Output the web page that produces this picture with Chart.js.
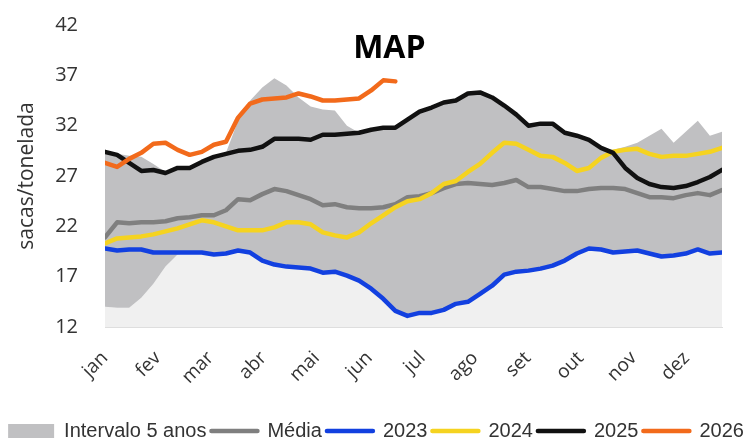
<!DOCTYPE html>
<html>
<head>
<meta charset="utf-8">
<script src="https://cdn.jsdelivr.net/npm/chart.js@4.4.1/dist/chart.umd.min.js"></script>
<style>
  html, body { margin: 0; padding: 0; background: #fff; }
  #wrap { width: 752px; height: 438px; }
</style>
</head>
<body>
<div id="wrap"><canvas id="chart"></canvas></div>
<script>
// week index along the year
const WEEKS = [0,1,2,3,4,5,6,7,8,9,10,11,12,13,14,15,16,17,18,19,20,21,22,23,24,25,
               26,27,28,29,30,31,32,33,34,35,36,37,38,39,40,41,42,43,44,45,46,47,48,49,50,51];
const MONTHS = ['jan','fev','mar','abr','mai','jun','jul','ago','set','out','nov','dez'];
const MONTH_TICKS = [0, 4.37, 8.74, 13.11, 17.48, 21.85, 26.22, 30.59, 34.96, 39.33, 43.7, 48.07];
const Y_TICKS = [12, 17, 22, 27, 32, 37, 42];
const TITLE = 'MAP';

// 5-year range (min / max)
const BAND_MIN = [14.0,13.9,13.9,14.9,16.3,18.0,19.2,19.4,19.4,19.2,19.3,19.6,19.4,18.6,18.2,18.0,17.9,17.8,17.4,17.5,17.1,16.6,15.8,14.8,13.6,13.1,
                  13.4,13.4,13.7,14.3,14.5,15.3,16.1,17.2,17.5,17.6,17.8,18.1,18.6,19.3,19.8,19.7,19.4,19.5,19.6,19.3,19.0,19.1,19.3,19.7,19.3,19.4];
const BAND_MAX = [29.5,29.2,29.0,28.9,28.2,27.4,27.8,27.8,28.4,28.9,29.3,32.5,34.5,35.8,36.7,36.0,34.8,33.9,33.6,33.5,32.0,31.3,31.6,31.8,31.8,32.6,
                  33.4,33.8,34.3,34.5,35.2,35.3,34.8,34.0,33.1,32.0,32.2,32.2,31.3,31.0,30.6,29.8,29.6,29.9,30.3,31.0,31.7,30.3,31.4,32.5,31.0,31.4];
const MEDIA = [20.9,22.4,22.3,22.4,22.4,22.5,22.8,22.9,23.1,23.1,23.6,24.7,24.6,25.2,25.7,25.5,25.1,24.7,24.1,24.2,23.9,23.8,23.8,23.9,24.2,24.9,
               25.0,25.3,25.8,26.2,26.3,26.2,26.1,26.3,26.6,25.9,25.9,25.7,25.5,25.5,25.7,25.8,25.8,25.7,25.3,24.9,24.9,24.8,25.1,25.3,25.1,25.6];
const Y2023 = [19.8,19.6,19.7,19.7,19.4,19.4,19.4,19.4,19.4,19.2,19.3,19.6,19.4,18.6,18.2,18.0,17.9,17.8,17.4,17.5,17.1,16.6,15.8,14.8,13.6,13.1,
               13.4,13.4,13.7,14.3,14.5,15.3,16.1,17.2,17.5,17.6,17.8,18.1,18.6,19.3,19.8,19.7,19.4,19.5,19.6,19.3,19.0,19.1,19.3,19.7,19.3,19.4];
const Y2024 = [20.3,20.8,20.9,21.0,21.2,21.5,21.8,22.2,22.6,22.4,22.0,21.6,21.6,21.6,21.9,22.4,22.4,22.2,21.4,21.1,20.9,21.4,22.3,23.1,23.9,24.5,
               24.7,25.3,26.2,26.5,27.4,28.2,29.3,30.3,30.2,29.6,29.0,28.9,28.3,27.5,27.8,28.8,29.4,29.6,29.7,29.2,28.9,29.0,29.0,29.2,29.4,29.8];
const Y2025 = [29.4,29.1,28.3,27.5,27.6,27.3,27.8,27.8,28.4,28.9,29.2,29.5,29.6,29.9,30.7,30.7,30.7,30.6,31.1,31.1,31.2,31.3,31.6,31.8,31.8,32.6,
               33.4,33.8,34.3,34.5,35.2,35.3,34.8,34.0,33.1,32.0,32.2,32.2,31.3,31.0,30.6,29.8,29.3,27.8,26.8,26.2,25.9,25.8,26.0,26.4,26.9,27.6];
const Y2026 = [28.3,27.9,28.7,29.3,30.2,30.3,29.6,29.1,29.4,30.1,30.4,32.8,34.2,34.6,34.7,34.8,35.2,34.9,34.5,34.5,34.6,34.7,35.5,36.5,36.4];

const COLORS = {
    band: '#c0c0c2',
    below: '#f0f0f0',
    media: '#7f7f7f',
    y2023: '#1240e0',
    y2024: '#f5d320',
    y2025: '#111111',
    y2026: '#f26a1b',
    text: '#333333'
};

const toPoints = values => values.map((v, i) => ({ x: WEEKS[i], y: v }));

const lineSet = (label, values, color, order) => ({
    label,
    data: toPoints(values),
    borderColor: color,
    backgroundColor: color,
    legendColor: color,
    borderWidth: 4.5,
    pointRadius: 0,
    tension: 0,
    fill: false,
    borderCapStyle: 'round',
    borderJoinStyle: 'round',
    order
});

// draws the "MAP" heading inside the plot
const titlePlugin = {
    id: 'mapTitle',
    afterDatasetsDraw(chart) {
        const { ctx, scales: { x, y } } = chart;
        ctx.save();
        ctx.font = 'bold 32px "Open Sans"';
        ctx.fillStyle = '#000';
        ctx.textAlign = 'center';
        ctx.textBaseline = 'middle';
        ctx.fillText(TITLE, x.getPixelForValue(23.5), y.getPixelForValue(39.6));
        ctx.restore();
    }
};

new Chart(document.getElementById('chart'), {
    type: 'line',
    data: {
        datasets: [
            {
                label: '',
                data: toPoints(BAND_MIN),
                borderWidth: 0,
                pointRadius: 0,
                backgroundColor: COLORS.below,
                fill: 'start',
                order: 20
            },
            {
                label: 'Intervalo 5 anos',
                isBand: true,
                legendColor: COLORS.band,
                data: toPoints(BAND_MAX),
                borderWidth: 0,
                pointRadius: 0,
                backgroundColor: COLORS.band,
                fill: '-1',
                order: 19
            },
            lineSet('Média', MEDIA, COLORS.media, 6),
            lineSet('2023', Y2023, COLORS.y2023, 5),
            lineSet('2024', Y2024, COLORS.y2024, 4),
            lineSet('2025', Y2025, COLORS.y2025, 3),
            lineSet('2026', Y2026, COLORS.y2026, 2)
        ]
    },
    options: {
        responsive: true,
        maintainAspectRatio: false,
        animation: false,
        layout: { padding: { top: 25, left: 0, right: 0, bottom: 0 } },
        scales: {
            x: {
                type: 'linear',
                min: 0,
                max: 51,
                afterBuildTicks: s => { s.ticks = MONTH_TICKS.map(v => ({ value: v })); },
                afterFit: s => { s.height = 89; s.paddingRight = 30; },
                grid: { display: false, drawTicks: false },
                border: { display: true, color: '#dedede', width: 1 },
                ticks: {
                    autoSkip: false,
                    minRotation: 45,
                    maxRotation: 45,
                    padding: 20,
                    color: COLORS.text,
                    font: { family: '"Open Sans"', size: 19 },
                    callback: (value, index) => MONTHS[index]
                }
            },
            y: {
                min: 12,
                max: 42,
                afterBuildTicks: s => { s.ticks = Y_TICKS.map(v => ({ value: v })); },
                afterFit: s => { s.width = 105; s.paddingTop = 0; s.paddingBottom = 0; },
                grid: { display: false, drawTicks: false },
                border: { display: false },
                ticks: {
                    padding: 27,
                    color: COLORS.text,
                    font: { family: '"Open Sans"', size: 20 }
                },
                title: {
                    display: true,
                    text: 'sacas/tonelada',
                    color: COLORS.text,
                    padding: { top: 14, bottom: 0 },
                    font: { family: '"Open Sans"', size: 21 }
                }
            }
        },
        plugins: {
            legend: {
                position: 'bottom',
                maxHeight: 22,
                labels: {
                    usePointStyle: true,
                    pointStyleWidth: 46,
                    boxHeight: 14,
                    padding: 5,
                    color: COLORS.text,
                    font: { family: '"Liberation Sans"', size: 20 },
                    generateLabels: chart => chart.data.datasets
                        .map((ds, i) => ({
                            text: ds.label,
                            datasetIndex: i,
                            hidden: false,
                            fillStyle: ds.legendColor,
                            strokeStyle: ds.legendColor,
                            lineWidth: ds.isBand ? 0 : 4.5,
                            lineCap: 'round',
                            pointStyle: ds.isBand ? 'rect' : 'line',
                            fontColor: COLORS.text
                        }))
                        .filter(item => item.text)
                }
            },
            tooltip: { enabled: false }
        }
    },
    plugins: [titlePlugin]
});
</script>
</body>
</html>
